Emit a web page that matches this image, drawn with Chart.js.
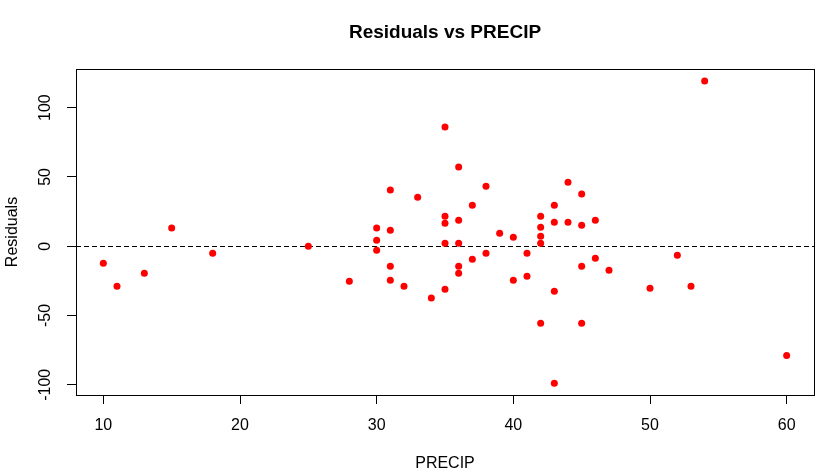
<!DOCTYPE html>
<html>
<head>
<meta charset="utf-8">
<script src="https://cdn.jsdelivr.net/npm/chart.js@4.4.1/dist/chart.umd.min.js"></script>
<style>
  html, body { margin: 0; padding: 0; background: #ffffff; }
  #wrap { width: 840px; height: 475px; }
</style>
</head>
<body>
<div id="wrap"><canvas id="c" width="840" height="475"></canvas></div>
<script>
const chartTitle = "Residuals vs PRECIP";
const xLabel = "PRECIP";
const yLabel = "Residuals";

const precip = [
  10, 11, 13, 15, 18, 25, 28, 30, 30, 30, 31, 31, 31, 31, 32, 33, 34,
  35, 35, 35, 35, 35, 36, 36, 36, 36, 36, 37, 37, 38, 38, 39, 40, 40,
  41, 41, 42, 42, 42, 42, 42, 43, 43, 43, 43, 44, 44, 45, 45, 45, 45,
  46, 46, 47, 50, 52, 53, 54, 60
];
const residuals = [
  -12.3, -28.9, -19.5, 13.2, -5.1, 0.0, -25.3, 13.2, 4.3, -2.9, 40.5, 11.6, -14.5, -24.6, -28.9, 35.4, -37.4,
  86.0, 21.7, 16.6, 2.2, -31.1, 57.1, 18.8, 2.2, -14.5, -19.5, 29.6, -9.4, 43.3, -5.1, 9.4, 6.5, -24.6,
  -5.1, -21.7, 21.7, 13.7, 7.2, 2.2, -55.6, 29.6, 17.3, -32.5, -99.0, 46.2, 17.3, 37.6, 15.2, -14.5, -55.6,
  18.8, -8.7, -17.3, -30.3, -6.5, -28.9, 119.2, -78.8
];
const xTicks = [10, 20, 30, 40, 50, 60];
const yTicks = [-100, -50, 0, 50, 100];
const xLimits = [8, 62];
const yLimits = [-107.4, 127.9];
const refLineY = 0;

const points = precip.map((p, i) => ({ x: p, y: residuals[i] }));
const FONT = "'Liberation Sans', Arial, sans-serif";

const rPlot = {
  id: 'rPlot',
  beforeDatasetsDraw(chart) {
    const { ctx, chartArea: a, scales } = chart;
    const y0 = Math.round(scales.y.getPixelForValue(refLineY)) + 0.5;
    ctx.save();
    ctx.strokeStyle = '#000';
    ctx.lineWidth = 1;
    ctx.setLineDash([5, 3]);
    ctx.beginPath();
    ctx.moveTo(a.left, y0);
    ctx.lineTo(a.right, y0);
    ctx.stroke();
    ctx.restore();
  },
  afterDraw(chart) {
    const { ctx, chartArea: a, scales } = chart;
    const cx = (a.left + a.right) / 2;
    ctx.save();
    ctx.strokeStyle = '#000';
    ctx.lineWidth = 1;
    ctx.setLineDash([]);
    ctx.strokeRect(a.left + 0.5, a.top + 0.5, a.right - a.left, a.bottom - a.top);
    ctx.fillStyle = '#000';
    ctx.textAlign = 'center';
    ctx.textBaseline = 'alphabetic';
    ctx.font = 'bold 19px ' + FONT;
    ctx.fillText(chartTitle, cx, 38);
    ctx.font = '16px ' + FONT;
    yTicks.forEach(v => {
      const py = scales.y.getPixelForValue(v);
      ctx.save();
      ctx.translate(50, py);
      ctx.rotate(-Math.PI / 2);
      ctx.fillText(String(v), 0, 0);
      ctx.restore();
    });
    ctx.fillText(xLabel, cx, 468);
    ctx.save();
    ctx.translate(17, (a.top + a.bottom) / 2);
    ctx.rotate(-Math.PI / 2);
    ctx.fillText(yLabel, 0, 0);
    ctx.restore();
    ctx.restore();
  }
};

new Chart(document.getElementById('c'), {
  type: 'scatter',
  data: {
    datasets: [{
      data: points,
      backgroundColor: '#ff0000',
      borderColor: '#ff0000',
      borderWidth: 0,
      pointRadius: 3.5,
      pointHoverRadius: 3.5
    }]
  },
  options: {
    responsive: false,
    animation: false,
    devicePixelRatio: 1,
    layout: { padding: { left: 0, right: 26, top: 69, bottom: 0 } },
    plugins: {
      legend: { display: false },
      tooltip: { enabled: false },
      title: { display: false }
    },
    scales: {
      x: {
        type: 'linear',
        min: xLimits[0],
        max: xLimits[1],
        afterBuildTicks: s => { s.ticks = xTicks.map(v => ({ value: v })); },
        afterFit: s => { s.height = 80; },
        ticks: { color: '#000', font: { family: FONT, size: 16 }, padding: 12, maxRotation: 0, autoSkip: false },
        grid: { drawOnChartArea: false, tickLength: 9, color: '#000', lineWidth: 1 },
        border: { color: '#000', width: 1 }
      },
      y: {
        type: 'linear',
        min: yLimits[0],
        max: yLimits[1],
        afterBuildTicks: s => { s.ticks = yTicks.map(v => ({ value: v })); },
        afterFit: s => { s.width = 76; },
        ticks: { display: false },
        grid: { drawOnChartArea: false, tickLength: 9, color: '#000', lineWidth: 1 },
        border: { color: '#000', width: 1 }
      }
    }
  },
  plugins: [rPlot]
});
</script>
</body>
</html>
